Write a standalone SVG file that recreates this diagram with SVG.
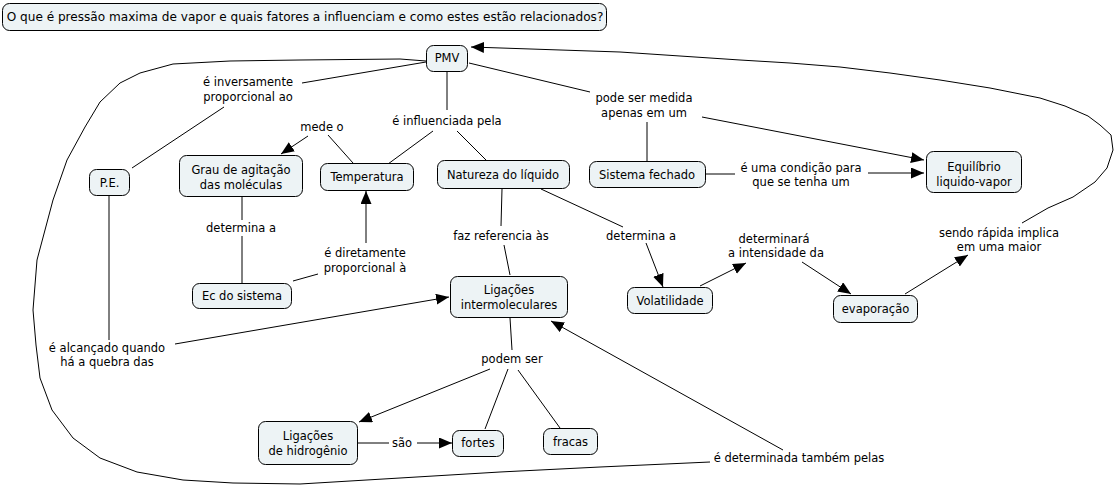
<svg xmlns="http://www.w3.org/2000/svg" width="1115" height="488" viewBox="0 0 1115 488">
<style>
.n rect{fill:#edf3f5;stroke:#000;stroke-width:1}
text{font-family:"DejaVu Sans","Liberation Sans",sans-serif;font-size:11.5px;fill:#000;text-anchor:middle}
#title text{font-size:12.1px}
.c line,.c polyline,.c path{stroke:#000;stroke-width:1;fill:none}
.a{marker-end:url(#ah)}
</style>
<defs>
<marker id="ah" markerUnits="userSpaceOnUse" markerWidth="14" markerHeight="12" refX="13" refY="5.5" orient="auto">
<path d="M0,0 L13,5.5 L0,11 z" fill="#000"/>
</marker>
</defs>
<rect width="1115" height="488" fill="#fff"/>

<g class="c" id="connectors">
<!-- PMV - inversamente - P.E. -->
<line x1="426" y1="62" x2="302" y2="83"/>
<line x1="224" y1="107" x2="132" y2="168"/>
<!-- PMV - influenciada -->
<line x1="447" y1="71" x2="447" y2="110"/>
<line x1="433" y1="131" x2="388" y2="164"/>
<line x1="457" y1="131" x2="486" y2="160"/>
<!-- Temperatura - mede o - Grau -->
<line x1="353" y1="163" x2="328" y2="135"/>
<line class="a" x1="308" y1="136" x2="281" y2="154"/>
<!-- Grau - determina a - Ec -->
<line x1="242" y1="196" x2="242" y2="220"/>
<line x1="242" y1="236" x2="242" y2="283"/>
<!-- Ec - diretamente - Temperatura -->
<line x1="293" y1="281" x2="318" y2="274"/>
<line class="a" x1="366" y1="243" x2="366" y2="191"/>
<!-- Natureza - faz referencia - Ligacoes -->
<line x1="502" y1="189" x2="501" y2="226"/>
<line x1="504" y1="245" x2="510" y2="275"/>
<!-- Natureza - determina a - Volatilidade -->
<line x1="541" y1="189" x2="623" y2="227"/>
<line class="a" x1="646" y1="243" x2="663" y2="287"/>
<!-- Volatilidade - determinara - evaporacao -->
<line class="a" x1="700" y1="286" x2="746" y2="263"/>
<line class="a" x1="802" y1="262" x2="851" y2="294"/>
<!-- evaporacao - sendo rapida -->
<line class="a" x1="905" y1="294" x2="968" y2="255"/>
<polyline class="a" points="1022,223 1048,208 1073,197 1095,182 1107,168 1113,150 1111,135 1100,125 1088,116 1065,106 1040,98 990,88 940,80 890,73 840,67 790,63 740,60 620,52 471,47"/>
<!-- PMV - pode ser medida -->
<line x1="469" y1="63" x2="590" y2="92"/>
<line class="a" x1="702" y1="117" x2="924" y2="160"/>
<line x1="647" y1="122" x2="647" y2="161"/>
<!-- Sistema fechado - condicao - Equilibrio -->
<line x1="705" y1="174" x2="735" y2="174"/>
<line class="a" x1="868" y1="173" x2="924" y2="173"/>
<!-- P.E. - alcancado - Ligacoes -->
<line x1="109" y1="195" x2="109" y2="340"/>
<line class="a" x1="175" y1="344" x2="449" y2="297"/>
<!-- Ligacoes - podem ser -->
<line x1="510" y1="318" x2="512" y2="350"/>
<line class="a" x1="490" y1="369" x2="359" y2="422"/>
<line x1="508" y1="369" x2="485" y2="429"/>
<line x1="518" y1="370" x2="560" y2="428"/>
<!-- Ligacoes de hidrogenio - sao - fortes -->
<line x1="358" y1="443" x2="389" y2="443"/>
<line class="a" x1="417" y1="443" x2="452" y2="443"/>
<!-- PMV curve - determinada tambem - Ligacoes -->
<polyline points="426,61 400,59 300,60 230,61 173,64 140,73 120,83 100,102 85,127 67,160 53,200 45,230 37,260 33,310 36,345 40,378 52,410 73,438 100,458 137,472 183,480 233,483 300,484 400,478 500,472 600,467 710,462"/>
<line class="a" x1="783" y1="450" x2="551" y2="321"/>
</g>

<g class="n" id="title"><rect x="2.5" y="3.5" width="604" height="27" rx="7"/><text x="305" y="21">O que é pressão maxima de vapor e quais fatores a influenciam e como estes estão relacionados?</text></g>
<g class="n" id="pmv"><rect x="426.5" y="45.5" width="41" height="26" rx="7"/><text x="447" y="62">PMV</text></g>
<g class="n" id="pe"><rect x="89.5" y="169.5" width="40" height="26" rx="7"/><text x="109.5" y="187">P.E.</text></g>
<g class="n" id="grau"><rect x="179.5" y="155.5" width="123" height="41" rx="7"/><text x="241" y="174">Grau de agitação</text><text x="241" y="189">das moléculas</text></g>
<g class="n" id="temperatura"><rect x="320.5" y="163.5" width="93" height="27" rx="7"/><text x="367" y="181">Temperatura</text></g>
<g class="n" id="natureza"><rect x="437.5" y="160.5" width="132" height="28" rx="7"/><text x="503" y="179">Natureza do líquido</text></g>
<g class="n" id="sistema"><rect x="589.5" y="161.5" width="116" height="26" rx="7"/><text x="647" y="179">Sistema fechado</text></g>
<g class="n" id="equilibrio"><rect x="926.5" y="151.5" width="95" height="41" rx="7"/><text x="974" y="171">Equilíbrio</text><text x="974" y="186">liquido-vapor</text></g>
<g class="n" id="ec"><rect x="192.5" y="283.5" width="99" height="25" rx="7"/><text x="242" y="300">Ec do sistema</text></g>
<g class="n" id="ligacoes"><rect x="450.5" y="276.5" width="117" height="41" rx="7"/><text x="509" y="294">Ligações</text><text x="509" y="309">intermoleculares</text></g>
<g class="n" id="volatilidade"><rect x="627.5" y="287.5" width="85" height="26" rx="7"/><text x="670" y="304.5">Volatilidade</text></g>
<g class="n" id="evaporacao"><rect x="833.5" y="295.5" width="84" height="27" rx="7"/><text x="875.5" y="312.5">evaporação</text></g>
<g class="n" id="hidrogenio"><rect x="258.5" y="421.5" width="99" height="43" rx="7"/><text x="308" y="440">Ligações</text><text x="308" y="455">de hidrogênio</text></g>
<g class="n" id="fortes"><rect x="452.5" y="430.5" width="51" height="26" rx="7"/><text x="478" y="447">fortes</text></g>
<g class="n" id="fracas"><rect x="543.5" y="428.5" width="54" height="26" rx="7"/><text x="570.5" y="445.5">fracas</text></g>

<g id="labels">
<text x="248" y="86">é inversamente</text><text x="248" y="101">proporcional ao</text>
<text x="322" y="131">mede o</text>
<text x="447" y="125">é influenciada pela</text>
<text x="644" y="102">pode ser medida</text><text x="644" y="117">apenas em um</text>
<text x="801" y="172">é uma condição para</text><text x="801" y="186">que se tenha um</text>
<text x="241" y="232">determina a</text>
<text x="365" y="257">é diretamente</text><text x="365" y="272">proporcional à</text>
<text x="501" y="240">faz referencia às</text>
<text x="641" y="240">determina a</text>
<text x="774" y="243">determinará</text><text x="776" y="257">a intensidade da</text>
<text x="999" y="237">sendo rápida implica</text><text x="999" y="251">em uma maior</text>
<text x="107" y="352">é alcançado quando</text><text x="107" y="366">há a quebra das</text>
<text x="512" y="363">podem ser</text>
<text x="402" y="447">são</text>
<text x="799" y="462">é determinada também pelas</text>
</g>
</svg>
